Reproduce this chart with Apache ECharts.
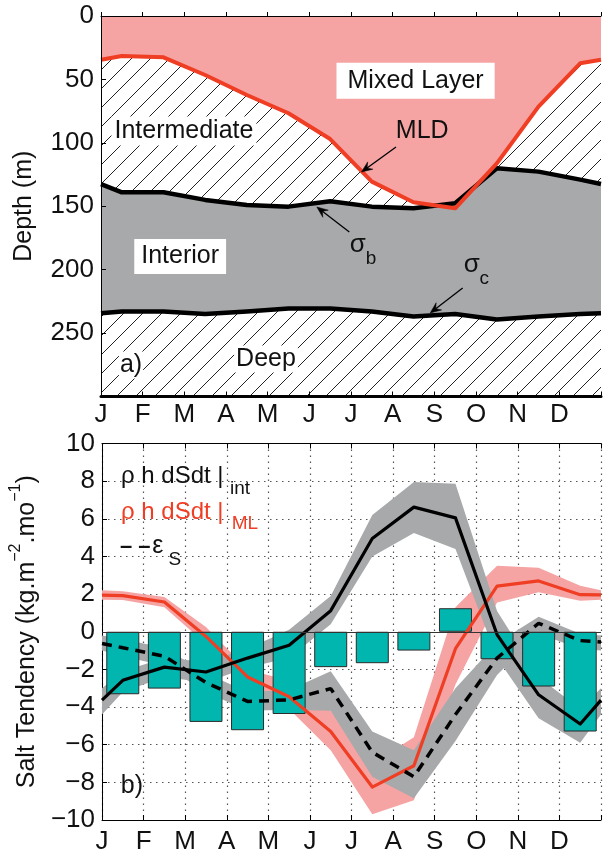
<!DOCTYPE html>
<html><head><meta charset="utf-8">
<script src="https://cdn.jsdelivr.net/npm/echarts@6/dist/echarts.min.js"></script>
<style>html,body{margin:0;padding:0;background:#fff}#c{width:604px;height:855px}</style>
</head><body><div id="c"></div>
<script>
const FONT = '"Liberation Sans", Arial, Helvetica, sans-serif';
const monthLabels = ['J','F','M','A','M','J','J','A','S','O','N','D'];
const depthMax = 300;
// 14 vertices each: left edge, 12 mid-month values, right edge
const mld    = [34.5, 31.5, 32.6, 46.5, 62.3, 76.7, 97.0, 130.6, 146.9, 151.6, 116.2, 71.5, 37.3, 34.5];
const sigmaB = [132.5, 139.0, 139.0, 145.0, 149.0, 150.3, 146.0, 150.3, 151.6, 147.7, 120.0, 122.7, 129.0, 132.5];
const sigmaC = [234.4, 233.0, 233.0, 235.0, 233.0, 230.6, 230.6, 233.0, 237.0, 235.0, 239.3, 237.0, 235.0, 234.4];

const intTend  = [-3.63, -2.58, -1.88, -2.14, -1.40, -0.72, 1.12, 4.95, 6.62, 6.05, -0.15, -3.35, -4.90, -3.63];
const intUpper = [-3.00, -2.10, -1.40, -1.60, -0.90, 0.10, 1.90, 6.20, 7.95, 7.86, 1.10, -2.40, -4.10, -3.00];
const intLower = [-4.40, -3.20, -2.40, -2.70, -1.90, -1.40, 0.40, 4.00, 5.25, 4.40, -1.40, -4.60, -5.90, -4.40];

const epsS     = [-0.62, -0.85, -1.30, -2.70, -3.70, -3.62, -3.02, -6.40, -7.70, -4.40, -1.40, 0.45, -0.47, -0.55];
const epsUpper = [-0.20, -0.40, -0.85, -2.20, -3.20, -3.10, -2.10, -5.30, -6.30, -3.00, -0.60, 0.80, -0.10, -0.20];
const epsLower = [-1.00, -1.30, -1.80, -3.20, -4.20, -4.15, -4.20, -7.70, -8.85, -5.80, -2.30, -0.10, -0.90, -1.00];

const mlTend   = [1.95, 1.92, 1.58, -0.25, -2.40, -3.45, -5.30, -8.25, -7.12, -0.90, 2.42, 2.70, 1.97, 1.96];
const mlUpper  = [2.20, 2.15, 1.85, 0.25, -2.00, -2.60, -4.20, -7.00, -5.60, 1.30, 3.50, 3.40, 2.45, 2.20];
const mlLower  = [1.70, 1.68, 1.30, -0.65, -2.90, -4.10, -6.30, -9.70, -8.95, -2.80, 1.55, 2.10, 1.65, 1.70];

const barVals  = [-3.32, -3.02, -4.79, -5.23, -4.37, -1.88, -1.67, -1.00, 1.25, -1.46, -2.91, -5.30];

// vertex x positions (month units): edge, mid-months, edge
const xs = [0].concat(monthLabels.map((m, i) => i + 0.5), [monthLabels.length]);
const pairs = arr => arr.map((v, i) => [xs[i], v]);

function hatchPattern() {
  const s = 19, c = document.createElement('canvas');
  c.width = s; c.height = s;
  const g = c.getContext('2d');
  g.fillStyle = '#fff'; g.fillRect(0, 0, s, s);
  g.strokeStyle = '#222'; g.lineWidth = 1;
  g.beginPath();
  g.moveTo(0, s); g.lineTo(s, 0);
  g.moveTo(-2, 2); g.lineTo(2, -2);
  g.moveTo(s - 2, s + 2); g.lineTo(s + 2, s - 2);
  g.stroke();
  return c;
}

const PINK = '#F5A4A3', RED = '#EF3E24', GRAY = '#A7A9AB', TEAL = '#00B6AF';
const chart = echarts.init(document.getElementById('c'), null, {renderer: 'canvas'});

const monthFmt = v => (Number.isInteger(v) && v < monthLabels.length) ? monthLabels[v] : '';
const baseX = (grid, pos, extra) => Object.assign({
  type: 'value', gridIndex: grid, position: pos, min: 0, max: monthLabels.length, interval: 1,
  axisLine: {show: true, onZero: false, lineStyle: {color: '#000', width: 1}},
  axisTick: {show: true, inside: true, length: 5, lineStyle: {color: '#000'}},
  axisLabel: {show: false},
  splitLine: {show: false}
}, extra || {});

// band between two series (filled polygon through the axes' scales)
function band(xi, yi, lower, upper, color) {
  return {
    type: 'custom', xAxisIndex: xi, yAxisIndex: yi, silent: true, clip: true, z: 2,
    data: lower.map((v, i) => [xs[i], v, upper[i]]),
    encode: {x: 0, y: [1, 2]},
    renderItem: (params, api) => {
      if (params.dataIndex !== 0) return null;
      const pts = [];
      for (let i = 0; i < xs.length; i++) pts.push(api.coord([xs[i], upper[i]]));
      for (let i = xs.length - 1; i >= 0; i--) pts.push(api.coord([xs[i], lower[i]]));
      return {type: 'polygon', shape: {points: pts}, style: {fill: color, stroke: null}};
    }
  };
}

const option = {
  animation: false,
  textStyle: {fontFamily: FONT},
  grid: [
    {left: 101, right: -4, top: 16, height: 380.5},
    {left: 101, right: -4, top: 443.5, bottom: 32.3}
  ],
  xAxis: [
    baseX(0, 'bottom', {z: 6,
      axisLine: {show: true, onZero: false, lineStyle: {color: '#000', width: 3}},
      axisLabel: {show: true, formatter: monthFmt, fontSize: 26, color: '#111', margin: 5, fontFamily: FONT}
    }),
    baseX(0, 'top', {z: 6, axisTick: {show: true, inside: false, length: 4, lineStyle: {color: '#000'}}}),
    baseX(1, 'bottom', {
      axisLabel: {show: true, formatter: monthFmt, fontSize: 26, color: '#111', margin: 9, fontFamily: FONT},
      splitLine: {show: true, lineStyle: {color: '#555', type: [1.5, 4.5], width: 1.2}}
    }),
    baseX(1, 'top')
  ],
  yAxis: [
    {
      type: 'value', gridIndex: 0, inverse: true, min: 0, max: depthMax, interval: 50, z: 6,
      axisLine: {show: true, lineStyle: {color: '#000', width: 1}},
      axisTick: {show: true, inside: true, length: 5, lineStyle: {color: '#000'}},
      axisLabel: {fontSize: 26, color: '#111', margin: 7, fontFamily: FONT,
        formatter: v => v === depthMax ? '' : String(v)},
      splitLine: {show: false},
      name: 'Depth (m)', nameLocation: 'middle', nameRotate: 90, nameGap: 64,
      nameTextStyle: {fontSize: 25, color: '#111', fontFamily: FONT}
    },
    {
      type: 'value', gridIndex: 1, min: -10, max: 10, interval: 2,
      axisLine: {show: true, lineStyle: {color: '#000', width: 1}},
      axisTick: {show: true, inside: true, length: 5, lineStyle: {color: '#000'}},
      axisLabel: {fontSize: 26, color: '#111', margin: 7, fontFamily: FONT,
        formatter: v => v < 0 ? '\u2212' + Math.abs(v) : String(v)},
      splitLine: {show: true, lineStyle: {color: '#555', type: [1.5, 4.5], width: 1.2}},
      name: '{a|Salt Tendency (kg.m}{s|\u22122}{a|.mo}{s|\u22121}{a|)}',
      nameLocation: 'middle', nameRotate: 90, nameGap: 60,
      nameTextStyle: {color: '#111', fontFamily: FONT, rich: {
        a: {fontSize: 25, lineHeight: 32, verticalAlign: 'bottom', color: '#111', fontFamily: FONT},
        s: {fontSize: 16, verticalAlign: 'top', color: '#111', fontFamily: FONT}
      }}
    }
  ],
  series: [
    // ---- top panel ----
    {type: 'line', xAxisIndex: 0, yAxisIndex: 0, silent: true, symbol: 'none', z: 1,
      data: [[0, depthMax], [monthLabels.length, depthMax]],
      lineStyle: {width: 0, opacity: 0},
      areaStyle: {color: {image: hatchPattern(), repeat: 'repeat'}, origin: 'start', opacity: 1}},
    band(0, 0, sigmaB, sigmaC, GRAY),
    {type: 'line', xAxisIndex: 0, yAxisIndex: 0, silent: true, symbol: 'none', z: 3,
      data: pairs(mld), lineStyle: {width: 0, opacity: 0},
      areaStyle: {color: PINK, opacity: 1, origin: 'start'}},
    {type: 'line', xAxisIndex: 0, yAxisIndex: 0, silent: true, symbol: 'none', z: 4,
      data: pairs(sigmaB), lineStyle: {color: '#000', width: 4.5, join: 'round'}},
    {type: 'line', xAxisIndex: 0, yAxisIndex: 0, silent: true, symbol: 'none', z: 4,
      data: pairs(sigmaC), lineStyle: {color: '#000', width: 4.5, join: 'round'}},
    {type: 'line', xAxisIndex: 0, yAxisIndex: 0, silent: true, symbol: 'none', z: 5,
      data: pairs(mld), lineStyle: {color: RED, width: 4, join: 'round'}},
    // ---- bottom panel: bands ----
    band(2, 1, mlLower, mlUpper, PINK),
    band(2, 1, epsLower, epsUpper, GRAY),
    band(2, 1, intLower, intUpper, GRAY),
    // bars
    {type: 'bar', xAxisIndex: 2, yAxisIndex: 1, silent: true, barWidth: 33, z: 3,
      data: barVals.map((v, i) => [i + 0.5, v]),
      itemStyle: {color: TEAL, borderColor: '#2b2b2b', borderWidth: 1},
      markLine: {silent: true, symbol: 'none', label: {show: false},
        lineStyle: {color: '#333', type: 'solid', width: 1}, data: [{yAxis: 0}]}},
    // lines
    {type: 'line', xAxisIndex: 2, yAxisIndex: 1, silent: true, symbol: 'none', z: 4,
      data: pairs(mlTend), lineStyle: {color: RED, width: 3.2, join: 'round'}},
    {type: 'line', xAxisIndex: 2, yAxisIndex: 1, silent: true, symbol: 'none', z: 4,
      data: pairs(intTend), lineStyle: {color: '#000', width: 3.2, join: 'round'}},
    {type: 'line', xAxisIndex: 2, yAxisIndex: 1, silent: true, symbol: 'none', z: 4,
      data: pairs(epsS), lineStyle: {color: '#000', width: 3.5, type: [10, 7]}}
  ]
};
chart.setOption(option);

// ---- annotations anchored in data coordinates ----
const P = (g, x, y) => chart.convertToPixel(g === 0 ? {xAxisIndex: 0, yAxisIndex: 0} : {xAxisIndex: 2, yAxisIndex: 1}, [x, y]);
function label(g, x, y, text, o) {
  o = o || {};
  const p = P(g, x, y);
  return {type: 'text', z: 100, x: p[0], y: p[1], silent: true, style: Object.assign({
    text: text, fontSize: 25, fontFamily: FONT, fill: '#111', align: 'center', verticalAlign: 'middle'
  }, o)};
}
function arrow(g, x1, y1, x2, y2) {
  const a = P(g, x1, y1), b = P(g, x2, y2);
  const ang = Math.atan2(b[1] - a[1], b[0] - a[0]);
  const L = 11, W = 4.5, notch = 7;
  const ux = Math.cos(ang), uy = Math.sin(ang), nx = -uy, ny = ux;
  const base = [b[0] - ux * L, b[1] - uy * L];
  const n = [b[0] - ux * notch, b[1] - uy * notch];
  return [
    {type: 'line', z: 100, silent: true, shape: {x1: a[0], y1: a[1], x2: n[0], y2: n[1]}, style: {stroke: '#000', lineWidth: 1.3}},
    {type: 'polygon', z: 100, silent: true, shape: {points: [b, [base[0] + nx * W, base[1] + ny * W], n, [base[0] - nx * W, base[1] - ny * W]]},
      style: {fill: '#000', stroke: '#000', lineWidth: 0.5}}
  ];
}
const els = [
  label(0, 7.55, 51, 'Mixed Layer', {backgroundColor: '#fff', padding: [6, 11, 5, 11]}),
  label(0, 7.71, 90.7, 'MLD'),
  label(0, 1.99, 90.7, 'Intermediate', {backgroundColor: '#fff', padding: [2, 3]}),
  label(0, 1.9, 189.6, 'Interior', {backgroundColor: '#fff', padding: [5, 7]}),
  label(0, 3.96, 270.4, 'Deep', {backgroundColor: '#fff', padding: [1, 2]}),
  label(0, 0.72, 275.2, 'a)', {backgroundColor: '#fff', padding: [1, 1]}),
  label(0, 6.16, 180.6, '\u03c3', {fontSize: 26}),
  label(0, 6.48, 191.5, 'b', {fontSize: 19}),
  label(0, 8.9, 196, '\u03c3', {fontSize: 26}),
  label(0, 9.2, 207.5, 'c', {fontSize: 19}),
  ...arrow(0, 7.08, 103.3, 6.25, 123),
  ...arrow(0, 5.96, 170.3, 5.18, 150.6),
  ...arrow(0, 8.68, 214.5, 7.9, 234.2),
  label(1, 0.456, 8.25, '\u03c1 h dSdt |', {align: 'left', fontSize: 24}),
  label(1, 3.08, 7.62, 'int', {align: 'left', fontSize: 19}),
  label(1, 0.456, 6.35, '\u03c1 h dSdt |', {align: 'left', fontSize: 24, fill: RED}),
  label(1, 3.12, 5.72, 'ML', {align: 'left', fontSize: 19, fill: RED}),
  label(1, 0.43, 4.5, '\u2013 \u2013', {align: 'left', fontSize: 22, fontWeight: 'bold'}),
  label(1, 1.21, 4.55, '\u03b5', {align: 'left', fontSize: 25}),
  label(1, 1.6, 3.8, 'S', {align: 'left', fontSize: 19}),
  label(1, 0.72, -8.22, 'b)')
];
chart.setOption({graphic: {elements: els}});
</script></body></html>
